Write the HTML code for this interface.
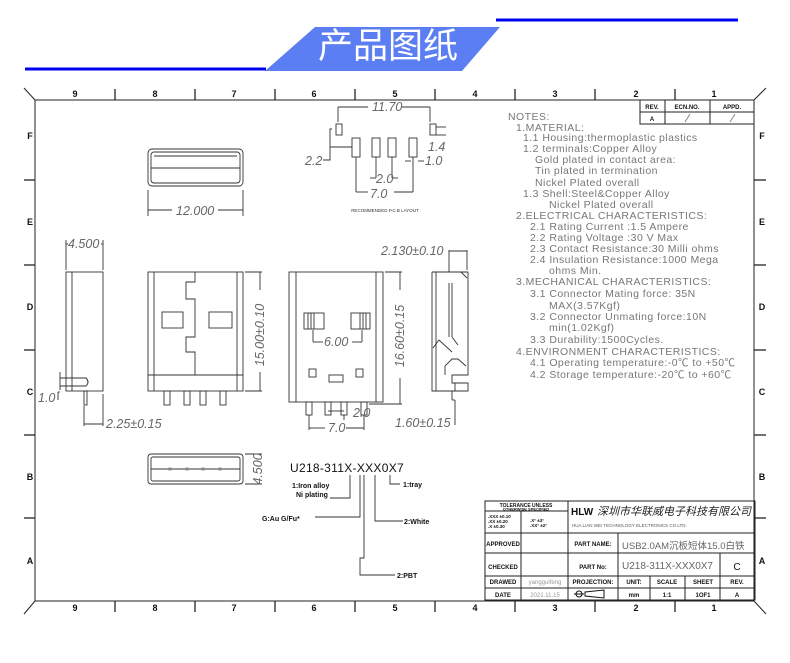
<!DOCTYPE html>
<html><head><meta charset="utf-8"><style>
html,body{margin:0;padding:0;background:#fff;width:790px;height:663px;overflow:hidden}
svg{display:block}
text{font-family:"Liberation Sans","Noto Sans CJK SC",sans-serif}
.d{font-family:"Liberation Sans",sans-serif;font-style:italic;fill:#666;font-size:12.5px}
.n{fill:#777;font-size:10.5px;letter-spacing:0.45px}
.t{font-size:6px;font-weight:bold;fill:#111}
</style></head><body>
<svg width="790" height="663" viewBox="0 0 790 663" xmlns="http://www.w3.org/2000/svg">
<line x1="25" y1="69" x2="266" y2="69" stroke="#0000ee" stroke-width="3"/>
<line x1="496" y1="20" x2="738" y2="20" stroke="#0000ee" stroke-width="3"/>
<polygon points="315,27 500,27 462,71 265,71" fill="#5b7ef2"/>
<text x="388" y="58" font-size="35" fill="#fff" text-anchor="middle" font-family="Noto Sans CJK SC,sans-serif">产品图纸</text>

<g stroke="#222" fill="none" stroke-width="1">
<rect x="35" y="100" width="719" height="501"/>
<line x1="24" y1="88" x2="35" y2="100"/><line x1="766" y1="88" x2="754" y2="100"/>
<line x1="24" y1="614" x2="35" y2="601"/><line x1="766" y1="614" x2="754" y2="601"/>
<g stroke-width="1.3">
<line x1="115" y1="89" x2="115" y2="100"/><line x1="195" y1="89" x2="195" y2="100"/><line x1="275" y1="89" x2="275" y2="100"/><line x1="355" y1="89" x2="355" y2="100"/><line x1="435" y1="89" x2="435" y2="100"/><line x1="515" y1="89" x2="515" y2="100"/><line x1="595" y1="89" x2="595" y2="100"/><line x1="675" y1="89" x2="675" y2="100"/>
<line x1="115" y1="601" x2="115" y2="612"/><line x1="195" y1="601" x2="195" y2="612"/><line x1="275" y1="601" x2="275" y2="612"/><line x1="355" y1="601" x2="355" y2="612"/><line x1="435" y1="601" x2="435" y2="612"/><line x1="515" y1="601" x2="515" y2="612"/><line x1="595" y1="601" x2="595" y2="612"/><line x1="675" y1="601" x2="675" y2="612"/>
<line x1="24" y1="180" x2="35" y2="180"/><line x1="24" y1="265" x2="35" y2="265"/><line x1="24" y1="350" x2="35" y2="350"/><line x1="24" y1="435" x2="35" y2="435"/><line x1="24" y1="518" x2="35" y2="518"/>
<line x1="754" y1="180" x2="766" y2="180"/><line x1="754" y1="265" x2="766" y2="265"/><line x1="754" y1="350" x2="766" y2="350"/><line x1="754" y1="435" x2="766" y2="435"/><line x1="754" y1="518" x2="766" y2="518"/>
</g>
<rect x="640" y="100" width="114" height="24"/>
<line x1="640" y1="112" x2="754" y2="112"/><line x1="665" y1="100" x2="665" y2="124"/><line x1="710" y1="100" x2="710" y2="124"/>
<line x1="685" y1="122" x2="690" y2="114" stroke="#888"/><line x1="730" y1="122" x2="735" y2="114" stroke="#888"/>
<rect x="485" y="501" width="270" height="99"/>
<line x1="485" y1="533" x2="755" y2="533"/><line x1="485" y1="553" x2="755" y2="553"/><line x1="485" y1="576" x2="755" y2="576"/><line x1="485" y1="588" x2="755" y2="588"/>
<line x1="485" y1="511" x2="568" y2="511"/>
<line x1="521" y1="511" x2="521" y2="533"/>
<line x1="521" y1="533" x2="521" y2="600"/><line x1="568" y1="501" x2="568" y2="600"/><line x1="618" y1="533" x2="618" y2="600"/>
<line x1="650" y1="576" x2="650" y2="600"/><line x1="720" y1="553" x2="720" y2="600"/><line x1="685" y1="576" x2="685" y2="600"/>
</g>
<g font-size="9" font-weight="bold" fill="#111" text-anchor="middle">
<text x="75" y="97">9</text><text x="155" y="97">8</text><text x="234" y="97">7</text><text x="314" y="97">6</text><text x="395" y="97">5</text><text x="475" y="97">4</text><text x="555" y="97">3</text><text x="636" y="97">2</text><text x="714" y="97">1</text>
<text x="75" y="611">9</text><text x="155" y="611">8</text><text x="234" y="611">7</text><text x="314" y="611">6</text><text x="395" y="611">5</text><text x="475" y="611">4</text><text x="555" y="611">3</text><text x="636" y="611">2</text><text x="714" y="611">1</text>
<text x="30" y="139">F</text><text x="30" y="225">E</text><text x="30" y="310">D</text><text x="30" y="395">C</text><text x="30" y="480">B</text><text x="30" y="564">A</text>
<text x="762" y="139">F</text><text x="762" y="225">E</text><text x="762" y="310">D</text><text x="762" y="395">C</text><text x="762" y="480">B</text><text x="762" y="564">A</text>
</g>
<g class="t" text-anchor="middle">
<text x="652" y="109">REV.</text><text x="687" y="109">ECN.NO.</text><text x="732" y="109">APPD.</text><text x="652" y="121">A</text>
<text x="526" y="507" font-size="5">TOLERANCE UNLESS</text><text x="526" y="510.5" font-size="4">OTHERWISE SPECIFIED</text>
<text x="503" y="546">APPROVED</text><text x="503" y="569">CHECKED</text><text x="503" y="584">DRAWED</text><text x="503" y="597">DATE</text>
<text x="593" y="546">PART NAME:</text><text x="593" y="569">PART No:</text><text x="593" y="584">PROJECTION:</text>
<text x="634" y="584">UNIT:</text><text x="667" y="584">SCALE</text><text x="703" y="584">SHEET</text><text x="737" y="584">REV.</text>
<text x="634" y="597">mm</text><text x="667" y="597">1:1</text><text x="703" y="597">1OF1</text><text x="737" y="597">A</text>
<text x="737" y="570" font-size="10" font-weight="normal">C</text>
</g>
<g font-size="4.5" font-weight="bold" fill="#111"><text x="488" y="518">.XXX ±0.10</text><text x="488" y="523">.XX  ±0.20</text><text x="488" y="528">.X   ±0.30</text><text x="530" y="522">.X° ±3°</text><text x="530" y="527">.XX° ±2°</text></g>
<text x="545" y="584" font-size="6" fill="#999" text-anchor="middle">yangguifeng</text>
<text x="545" y="597" font-size="6" fill="#999" text-anchor="middle">2021.11.15</text>
<g stroke="#111" fill="none"><circle cx="579" cy="594" r="3"/><line x1="574" y1="594" x2="584" y2="594"/><polygon points="585,592 604,590 604,598 585,596"/></g>
<text x="571" y="515" font-size="10" font-weight="bold" fill="#111">HLW</text>
<text x="597" y="515" font-size="11" fill="#222" font-family="Noto Serif CJK SC,serif" font-style="italic">深圳市华联威电子科技有限公司</text>
<text x="572" y="527" font-size="4.5" fill="#555" font-family="Liberation Serif,serif">HUA LIAN WEI TECHNOLOGY ELECTRONICS CO.LTD.</text>
<text x="622" y="549" font-size="9.5" fill="#666" font-family="Liberation Serif,Noto Serif CJK SC,serif">USB2.0AM沉板短体15.0白铁</text>
<text x="622" y="569" font-size="10" fill="#666" font-family="Liberation Serif,serif">U218-311X-XXX0X7</text>

<g class="n">
<text x="508" y="120">NOTES:</text>
<text x="516" y="131">1.MATERIAL:</text>
<text x="523" y="141">1.1 Housing:thermoplastic plastics</text>
<text x="523" y="152">1.2 terminals:Copper Alloy</text>
<text x="535" y="163">Gold plated in contact area:</text>
<text x="535" y="174">Tin plated in termination</text>
<text x="535" y="186">Nickel Plated overall</text>
<text x="523" y="197">1.3 Shell:Steel&amp;Copper Alloy</text>
<text x="549" y="208">Nickel Plated overall</text>
<text x="516" y="219">2.ELECTRICAL CHARACTERISTICS:</text>
<text x="530" y="230">2.1 Rating Current :1.5 Ampere</text>
<text x="530" y="241">2.2 Rating Voltage :30 V Max</text>
<text x="530" y="252">2.3 Contact Resistance:30 Milli ohms</text>
<text x="530" y="263">2.4 Insulation Resistance:1000 Mega</text>
<text x="549" y="274">ohms Min.</text>
<text x="516" y="285">3.MECHANICAL CHARACTERISTICS:</text>
<text x="530" y="297">3.1 Connector Mating force: 35N</text>
<text x="549" y="309">MAX(3.57Kgf)</text>
<text x="530" y="320">3.2 Connector Unmating force:10N</text>
<text x="549" y="331">min(1.02Kgf)</text>
<text x="530" y="343">3.3 Durability:1500Cycles.</text>
<text x="516" y="355">4.ENVIRONMENT CHARACTERISTICS:</text>
<text x="530" y="366">4.1 Operating temperature:-0℃ to +50℃</text>
<text x="530" y="378">4.2 Storage temperature:-20℃ to +60℃</text>
</g>

<g stroke="#333" fill="none" stroke-width="0.9">
<rect x="148" y="149" width="95" height="37" rx="4"/><rect x="151" y="152" width="89" height="31" rx="3"/>
<line x1="151" y1="168" x2="240" y2="168"/><line x1="154" y1="156" x2="237" y2="156"/>
<line x1="148" y1="190" x2="148" y2="216"/><line x1="243" y1="190" x2="243" y2="216"/><line x1="148" y1="210" x2="172" y2="210"/><line x1="218" y1="210" x2="243" y2="210"/>
<rect x="336" y="124" width="6" height="11"/><rect x="430" y="124" width="6" height="11"/>
<rect x="352" y="138" width="8" height="19"/><rect x="372" y="138" width="8" height="19"/><rect x="388" y="138" width="8" height="19"/><rect x="409" y="138" width="8" height="19"/>
<line x1="338" y1="107" x2="338" y2="122"/><line x1="430" y1="107" x2="430" y2="122"/><line x1="338" y1="107" x2="368" y2="107"/><line x1="402" y1="107" x2="430" y2="107"/>
<line x1="436" y1="127" x2="446" y2="127"/><line x1="436" y1="135" x2="446" y2="135"/>
<polyline points="332,129 330,129 330,160 323,160"/><line x1="330" y1="147" x2="352" y2="147"/>
<line x1="356" y1="157" x2="356" y2="192"/><line x1="413" y1="157" x2="413" y2="192"/><line x1="356" y1="192" x2="368" y2="192"/><line x1="394" y1="192" x2="413" y2="192"/>
<line x1="376" y1="157" x2="376" y2="178"/><line x1="392" y1="157" x2="392" y2="178"/><line x1="370" y1="178" x2="376" y2="178"/><line x1="392" y1="178" x2="398" y2="178"/>
<line x1="411" y1="161" x2="405" y2="161"/><line x1="418" y1="161" x2="424" y2="161"/>
<rect x="66" y="272" width="37" height="119"/><line x1="72" y1="272" x2="72" y2="391"/>
<path d="M60,378 H86 Q90,382 86,386 H60"/><line x1="60" y1="372" x2="60" y2="390"/>
<rect x="84" y="391" width="3" height="14"/>
<line x1="66" y1="240" x2="66" y2="270"/><line x1="103" y1="240" x2="103" y2="270"/><line x1="66" y1="244" x2="68" y2="244"/><line x1="101" y1="244" x2="103" y2="244"/>
<line x1="84" y1="406" x2="84" y2="426"/><line x1="103" y1="394" x2="103" y2="426"/><line x1="84" y1="424" x2="103" y2="424"/>
<line x1="58" y1="392" x2="60" y2="392"/><line x1="58" y1="392" x2="58" y2="400"/>
<rect x="148" y="272" width="95" height="119"/><line x1="154" y1="272" x2="154" y2="391"/><line x1="237" y1="272" x2="237" y2="391"/>
<line x1="148" y1="375" x2="243" y2="375"/>
<polyline points="195,272 195,282 186,282 186,299 195,299 195,337 186,337 186,352 195,352 195,375"/>
<rect x="162" y="312" width="21" height="16"/><rect x="209" y="312" width="23" height="16"/>
<rect x="164" y="391" width="6" height="14"/><rect x="184" y="391" width="6" height="14"/><rect x="200" y="391" width="6" height="14"/><rect x="220" y="391" width="6" height="14"/>
<line x1="245" y1="272" x2="262" y2="272"/><line x1="245" y1="391" x2="262" y2="391"/><line x1="260" y1="272" x2="260" y2="290"/><line x1="260" y1="372" x2="260" y2="391"/>
<rect x="289" y="272" width="94" height="130"/><line x1="296" y1="272" x2="296" y2="402"/><line x1="376" y1="272" x2="376" y2="402"/>
<rect x="304" y="313" width="20" height="16"/><rect x="351" y="313" width="19" height="16"/>
<line x1="308" y1="313" x2="308" y2="329"/><line x1="311" y1="313" x2="311" y2="329"/><line x1="314" y1="313" x2="314" y2="329"/>
<line x1="360" y1="313" x2="360" y2="329"/><line x1="363" y1="313" x2="363" y2="329"/><line x1="366" y1="313" x2="366" y2="329"/>
<rect x="309" y="369" width="7" height="8"/><rect x="329" y="375" width="14" height="7"/><rect x="356" y="369" width="7" height="8"/>
<rect x="306" y="402" width="6" height="13"/><rect x="325" y="402" width="6" height="13"/><rect x="341" y="402" width="6" height="13"/><rect x="361" y="402" width="6" height="13"/>
<line x1="313" y1="330" x2="313" y2="342"/><line x1="362" y1="330" x2="362" y2="342"/><line x1="313" y1="342" x2="323" y2="342"/><line x1="352" y1="342" x2="362" y2="342"/>
<line x1="328" y1="411" x2="344" y2="411"/><line x1="344" y1="415" x2="344" y2="420"/>
<line x1="309" y1="415" x2="309" y2="430"/><line x1="364" y1="415" x2="364" y2="430"/><line x1="309" y1="428" x2="325" y2="428"/><line x1="346" y1="428" x2="364" y2="428"/>
<line x1="385" y1="272" x2="402" y2="272"/><line x1="369" y1="404" x2="402" y2="404"/><line x1="400" y1="272" x2="400" y2="290"/><line x1="400" y1="378" x2="400" y2="404"/>
<polyline points="432,272 468,272 468,375 452,375 452,383 468,383 468,391 432,391 432,272"/>
<line x1="436" y1="272" x2="436" y2="391"/>
<line x1="461" y1="272" x2="467" y2="278"/>
<path d="M452,283 V337 M449,283 V337 M452,337 L458,345 M433,348 L439,340 L452,352 M445,375 V366 L452,359 L458,359 L466,366"/>
<line x1="449" y1="250" x2="449" y2="272"/><line x1="467" y1="250" x2="467" y2="270"/><line x1="449" y1="251" x2="467" y2="251"/>
<line x1="452" y1="391" x2="452" y2="400"/><line x1="455" y1="383" x2="455" y2="391"/><line x1="455" y1="400" x2="455" y2="425"/><line x1="452" y1="400" x2="455" y2="400"/>
<rect x="148" y="454" width="95" height="30" rx="3"/><rect x="151" y="457" width="89" height="24" rx="2"/>
<line x1="151" y1="469" x2="240" y2="469"/>
<line x1="245" y1="454" x2="262" y2="454"/><line x1="245" y1="484" x2="262" y2="484"/>
<polyline points="350,475 350,498 330,498"/>
<polyline points="364,475 364,558 360,558 360,575 395,575"/>
<polyline points="360,475 360,517 315,517"/>
<polyline points="375,475 375,521 403,521"/>
<polyline points="390,475 390,484 400,484"/>
</g>
<g fill="#888"><ellipse cx="170" cy="469" rx="3" ry="1.5"/><ellipse cx="187" cy="469" rx="3" ry="1.5"/><ellipse cx="203" cy="469" rx="3" ry="1.5"/><ellipse cx="220" cy="469" rx="3" ry="1.5"/></g>

<text class="d" x="372" y="111">11.70</text>
<text class="d" x="176" y="215">12.000</text>
<text class="d" x="305" y="165">2.2</text>
<text class="d" x="428" y="151">1.4</text>
<text class="d" x="425" y="165">1.0</text>
<text class="d" x="376" y="183">2.0</text>
<text class="d" x="370" y="198">7.0</text>
<text x="385" y="212" font-size="4.5" fill="#333" text-anchor="middle">RECOMMENDED   P.C.B LAYOUT</text>
<text class="d" x="68" y="248">4.500</text>
<text class="d" x="38" y="402">1.0</text>
<text class="d" x="106" y="428">2.25±0.15</text>
<text class="d" x="264" y="335" transform="rotate(-90 264 335)" text-anchor="middle">15.00±0.10</text>
<text class="d" x="404" y="336" transform="rotate(-90 404 336)" text-anchor="middle">16.60±0.15</text>
<text class="d" x="324" y="346">6.00</text>
<text class="d" x="353" y="417">2.0</text>
<text class="d" x="328" y="432">7.0</text>
<text class="d" x="381" y="255">2.130±0.10</text>
<text class="d" x="395" y="427">1.60±0.15</text>
<text class="d" x="262" y="469" transform="rotate(-90 262 469)" text-anchor="middle">4.500</text>
<text x="290" y="472" font-size="12" fill="#111" letter-spacing="0.3">U218-311X-XXX0X7</text>
<g font-size="7" font-weight="bold" fill="#111">
<text x="292" y="488">1:Iron alloy</text><text x="296" y="497">Ni plating</text>
<text x="403" y="487">1:tray</text><text x="404" y="524">2:White</text><text x="397" y="578">2:PBT</text>
<text x="262" y="521">G:Au G/Fu*</text>
</g>
</svg>
</body></html>
